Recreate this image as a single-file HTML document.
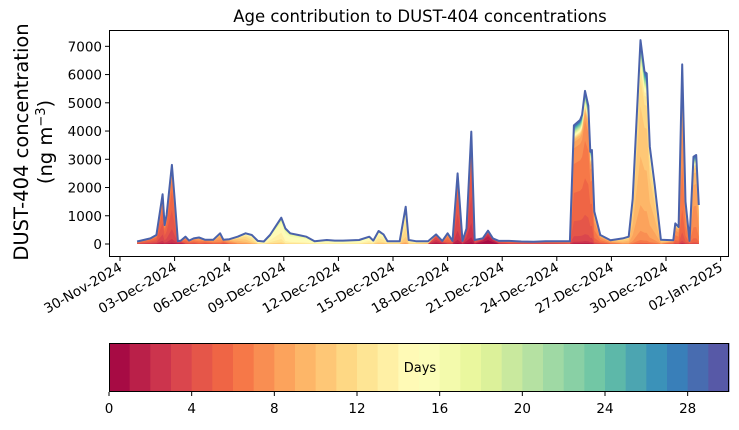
<!DOCTYPE html>
<html><head><meta charset="utf-8"><style>
body{margin:0;background:#fff;width:739px;height:425px;overflow:hidden}
text{font-family:"DejaVu Sans","Liberation Sans",sans-serif;fill:#000}
</style></head><body>
<svg id="c" width="739" height="425" xmlns="http://www.w3.org/2000/svg"></svg>
<script>
// days since 30-Nov-2024
const days=[0.94,1.67,2.0,2.34,2.45,2.56,2.85,3.0,3.18,3.34,3.6,3.79,4.05,4.34,4.68,5.12,5.5,5.68,6.01,6.46,6.9,7.24,7.57,7.9,8.24,8.86,9.09,9.35,9.8,10.24,10.69,11.36,11.8,12.25,13.14,13.7,13.92,14.21,14.48,14.7,15.37,15.7,15.86,16.26,16.93,17.37,17.71,18.0,18.27,18.55,18.82,19.04,19.3,19.49,19.93,20.22,20.49,20.82,21.38,22.05,22.72,23.39,24.72,24.94,25.28,25.39,25.55,25.73,25.84,25.93,26.06,26.39,26.95,27.62,27.95,28.17,28.6,28.82,28.94,29.11,29.38,29.72,30.4,30.51,30.69,30.89,31.07,31.29,31.51,31.66,31.8];
const totals=[90,200,320,1760,670,1030,2800,1620,100,120,260,120,200,230,150,150,380,150,170,260,380,320,110,90,320,930,550,380,320,260,100,140,120,120,140,260,120,460,340,100,100,1320,140,100,100,340,110,380,110,2500,110,550,3980,140,200,470,200,110,110,90,80,100,100,4200,4390,4570,5420,4900,3270,3330,1150,320,130,200,260,1600,7220,6100,6040,3450,2090,150,130,730,600,6360,1500,110,3090,3150,1380];
const meanAge=[6,5,5,5,5,5,5,5,3,3,6,6,6,7,6,7,8,6,8,10,11,12,14,15,14,14,15,15,15,15,15,15,15,15,15,14,14,13,13,13,13,12,13,13,12,3,3,6,5,4,4,3,4,4,1,1,1,4,5,5,5,5,6,6,6,6,6,6,6,6,7,7,8,10,10,10,10,10,10,10,10,10,7,7,7,7,7,6,8,8,8];
const yTicks=[0,1000,2000,3000,4000,5000,6000,7000];
const xTickDays=[0,3,6,9,12,15,18,21,24,27,30,33];
const xTickLabels=["30-Nov-2024","03-Dec-2024","06-Dec-2024","09-Dec-2024","12-Dec-2024","15-Dec-2024","18-Dec-2024","21-Dec-2024","24-Dec-2024","27-Dec-2024","30-Dec-2024","02-Jan-2025"];
const cbTicks=[0,4,8,12,16,20,24,28];
const NB=30;
const svg=document.getElementById('c');const NS='http://www.w3.org/2000/svg';
function mk(t,a,p){const e=document.createElementNS(NS,t);for(const k in a)e.setAttribute(k,a[k]);(p||svg).appendChild(e);return e;}
const X=d=>120+d*18.2, Y=v=>244-v*0.02824;
const anchors=["#9e0142","#d53e4f","#f46d43","#fdae61","#fee08b","#ffffbf","#e6f598","#abdda4","#66c2a5","#3288bd","#5e4fa2"];
function spectral(t){const p=t*10,i=Math.min(9,Math.floor(p)),f=p-i;const a=anchors[i],b=anchors[i+1];const c=[0,1,2].map(j=>Math.round(parseInt(a.substr(1+2*j,2),16)*(1-f)+parseInt(b.substr(1+2*j,2),16)*f));return `rgb(${c})`;}
const cols=[];for(let k=0;k<NB;k++)cols.push(spectral((k+0.5)/NB));
const ax=mk('rect',{x:109.5,y:30.5,width:619,height:226,fill:'none',stroke:'#000','stroke-width':1});

// cumulative share: core around mean age + thin tail of older air
function share(a,m){const core=1/(1+Math.exp(-(a-m)/0.8));const tail=Math.max(0,Math.min(1,(a-m)/(NB-m)));return 0.86*core+0.14*tail;}
const g=mk('g',{});
for(let k=NB-1;k>=0;k--){
  let top=[];
  for(let i=0;i<days.length;i++){
    const m=meanAge[i];const c0=share(0,m);const norm=share(NB,m)-c0;
    const hi=(share(k+1,m)-c0)/norm;
    top.push(X(days[i]).toFixed(1)+','+Y(totals[i]*hi).toFixed(1));
  }
  const d='M'+X(days[0]).toFixed(1)+','+Y(0)+' L'+top.join(' L')+' L'+X(days[days.length-1]).toFixed(1)+','+Y(0)+'Z';
  const p=mk('path',{d:d,fill:cols[k],stroke:'none'},g);
  
  
}
const line=mk('polyline',{points:days.map((d,i)=>X(d).toFixed(1)+','+Y(totals[i]).toFixed(1)).join(' '),fill:'none',stroke:'#4a62ab','stroke-width':2,'stroke-linejoin':'round'});

yTicks.forEach(v=>{const y=Y(v);mk('line',{x1:105,x2:109,y1:y,y2:y,stroke:'#000'});
 const t=mk('text',{x:102,y:y+5,'text-anchor':'end','font-size':13.5});t.textContent=v;
 });
xTickDays.forEach((d,i)=>{const x=X(d);mk('line',{x1:x,x2:x,y1:257,y2:261,stroke:'#000'});
 const t=mk('text',{x:x+3,y:270,'text-anchor':'end','font-size':13.5,transform:`rotate(-30 ${x+3} 270)`});t.textContent=xTickLabels[i];
 });
const ti=mk('text',{x:420,y:22,'text-anchor':'middle','font-size':16.5});ti.textContent='Age contribution to DUST-404 concentrations';

const yl=mk('text',{transform:'translate(28 142) rotate(-90)','text-anchor':'middle','font-size':19.5});
yl.innerHTML='<tspan x="0" y="0">DUST-404 concentration</tspan><tspan x="0" y="24">(ng m<tspan baseline-shift="super" font-size="13">−3</tspan>)</tspan>';

const cb=mk('g',{});
const cx=a=>109+a*(620/NB);
for(let k=0;k<NB;k++)mk('rect',{x:cx(k),y:343,width:620/NB+0.5,height:49,fill:cols[k]},cb);
mk('rect',{x:109.5,y:343.5,width:619,height:48,fill:'none',stroke:'#000'},cb);
cbTicks.forEach(v=>{mk('line',{x1:cx(v),x2:cx(v),y1:392,y2:396,stroke:'#000'},cb);
 const t=mk('text',{x:cx(v),y:413,'text-anchor':'middle','font-size':13.5},cb);t.textContent=v;
 });
const dl=mk('text',{x:420,y:372,'text-anchor':'middle','font-size':13},cb);dl.textContent='Days';

</script>
</body></html>
